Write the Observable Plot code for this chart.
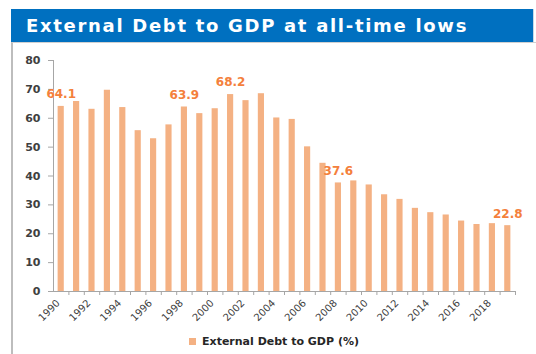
<!DOCTYPE html>
<html>
<head>
<meta charset="utf-8">
<script src="https://cdn.jsdelivr.net/npm/d3@7"></script>
<script src="https://cdn.jsdelivr.net/npm/@observablehq/plot@0.6"></script>
<style>
  html, body { margin: 0; padding: 0; background: #fff; }
  #wrap { position: relative; width: 536px; height: 354px; overflow: hidden; background: #fff; }
  #title { position: absolute; left: 11px; top: 9px; width: 523px; height: 33px; background: #0070c0;
           color: #fff; font: 700 18px "DejaVu Sans", sans-serif; letter-spacing: 1.7px; line-height: 33px; box-sizing: border-box; padding-left: 15px; white-space: nowrap; border-right: 1px solid #c8d8e8; }
  #box { position: absolute; left: 11px; top: 42px; width: 540px; height: 330px; border-left: 2px solid #bdbdbd; border-top: 1px solid #d0d0d0; box-sizing: border-box; }
  #chart { position: absolute; left: 0; top: 43px; }
  #legend { position: absolute; left: 6px; width: 536px; top: 335px; text-align: center; font: 700 11px "DejaVu Sans", sans-serif; color: #262626; }
  #legend .sw { display: inline-block; width: 7px; height: 7px; background: #f4b183; margin-right: 6px; vertical-align: 0px; }
</style>
</head>
<body>
<div id="wrap">
  <div id="box"></div>
  <div id="title">External Debt to GDP at all-time lows</div>
  <div id="chart"></div>
  <div id="legend"><span class="sw"></span>External Debt to GDP (%)</div>
</div>
<script>
const years = [1990,1991,1992,1993,1994,1995,1996,1997,1998,1999,2000,2001,2002,2003,2004,2005,2006,2007,2008,2009,2010,2011,2012,2013,2014,2015,2016,2017,2018,2019];
const debtToGdp = [64.1,65.8,63.1,69.7,63.7,55.7,52.9,57.7,63.9,61.6,63.3,68.2,66.1,68.5,60.1,59.6,50.1,44.4,37.6,38.3,36.9,33.5,31.9,28.8,27.3,26.5,24.4,23.2,23.5,22.8];
const labeledYears = [1990, 1998, 2001, 2008, 2019];
const xTickLabels = [1990,1992,1994,1996,1998,2000,2002,2004,2006,2008,2010,2012,2014,2016,2018];
const yTicks = [0,10,20,30,40,50,60,70,80];

const data = years.map((y, i) => ({year: y, value: debtToGdp[i]}));
const labeled = data.filter(d => labeledYears.includes(d.year));

const chart = Plot.plot({
  width: 536,
  height: 290,
  marginLeft: 53,
  marginRight: 21,
  marginTop: 17,
  marginBottom: 42,
  style: {fontFamily: "DejaVu Sans, sans-serif", background: "transparent", overflow: "visible"},
  x: {type: "band", domain: years, paddingInner: 0.6, paddingOuter: 0.3, round: false, axis: null},
  y: {domain: [0, 80], axis: null},
  marks: [
    Plot.barY(data, {x: "year", y: "value", fill: "#f4b183"}),
    Plot.ruleY([0], {stroke: "#a6a6a6", strokeWidth: 1}),
    Plot.frame({anchor: "left", stroke: "#a6a6a6", strokeWidth: 1}),
    Plot.axisY({ticks: yTicks, tickSize: 5, tickPadding: 8, stroke: "#a6a6a6", fill: "#404040",
      fontWeight: "bold", fontSize: 11, label: null}),
    Plot.axisX({ticks: years, tickSize: 4, tickFormat: () => "", stroke: "#a6a6a6", dx: 7.7, label: null}),
    Plot.axisX({ticks: xTickLabels, tickSize: 0, tickRotate: -45, tickPadding: 8, fontSize: 10,
      fill: "#404040", tickFormat: d => String(d), dx: -3, dy: 2, label: null}),
    Plot.text(labeled, {x: "year", y: "value", text: d => d.value.toFixed(1), dy: -12,
      fill: "#f4803c", fontWeight: "bold", fontSize: 12})
  ]
});
document.getElementById("chart").appendChild(chart);
</script>
</body>
</html>
